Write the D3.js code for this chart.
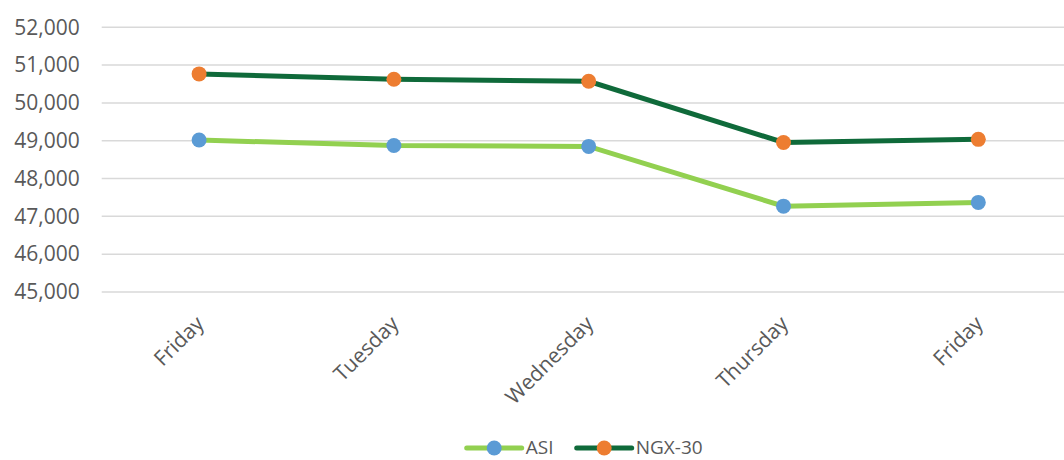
<!DOCTYPE html>
<html>
<head>
<meta charset="utf-8">
<script src="https://cdn.jsdelivr.net/npm/d3@7"></script>
<style>
  body { margin: 0; background: #fff; }
  text { font-family: "Open Sans", sans-serif; fill: #595959; }
</style>
</head>
<body>
<div id="chart-container"></div>
<script>
// Data
var days = ["Friday", "Tuesday", "Wednesday", "Thursday", "Friday "];
var asiValues = [49018, 48875, 48850, 47270, 47370];
var ngxValues = [50767, 50625, 50573, 48955, 49037];
var yTicks = [45000, 46000, 47000, 48000, 49000, 50000, 51000, 52000];

var width = 1064, height = 460;

var svg = d3.select("#chart-container")
    .append("svg")
    .attr("width", width)
    .attr("height", height);

// Scales
var x = d3.scaleBand()
    .domain(days)
    .range([101.7, 1075.7]);

var y = d3.scaleLinear()
    .domain([45000, 52000])
    .range([292, 27.3]);

// Gridlines
svg.append("g")
    .selectAll("line")
    .data(yTicks)
    .enter().append("line")
    .attr("x1", 101.7)
    .attr("x2", width)
    .attr("y1", function (d) { return y(d); })
    .attr("y2", function (d) { return y(d); })
    .attr("stroke", "#d9d9d9")
    .attr("stroke-width", 1.5);

// Y axis
var yAxis = svg.append("g")
    .attr("transform", "translate(101.7,0)")
    .call(d3.axisLeft(y).tickValues(yTicks).tickFormat(d3.format(",")).tickSize(0).tickPadding(22));
yAxis.select(".domain").remove();
yAxis.selectAll("text")
    .style("font-size", "21px")
    .attr("fill", "#595959");

// X axis labels
var xAxis = svg.append("g")
    .attr("transform", "translate(0,292)")
    .call(d3.axisBottom(x).tickSize(0).tickFormat(function (d) { return d.trim(); }));
xAxis.select(".domain").remove();
xAxis.selectAll("text")
    .style("font-size", "21px")
    .attr("fill", "#595959")
    .attr("text-anchor", "end")
    .attr("dy", null)
    .attr("y", null)
    .attr("transform", "translate(6,33) rotate(-45)");

function cx(d, i) { return x(days[i]) + x.bandwidth() / 2; }

// Lines
var line = d3.line()
    .x(function (d, i) { return cx(d, i); })
    .y(function (d) { return y(d); });

svg.append("path")
    .datum(asiValues)
    .attr("fill", "none")
    .attr("stroke", "#92d050")
    .attr("stroke-width", 5)
    .attr("d", line);

svg.append("path")
    .datum(ngxValues)
    .attr("fill", "none")
    .attr("stroke", "#0f6a3a")
    .attr("stroke-width", 5)
    .attr("d", line);

// Markers
svg.append("g").selectAll("circle")
    .data(asiValues)
    .enter().append("circle")
    .attr("cx", cx)
    .attr("cy", function (d) { return y(d); })
    .attr("r", 7.5)
    .attr("fill", "#5b9bd5");

svg.append("g").selectAll("circle")
    .data(ngxValues)
    .enter().append("circle")
    .attr("cx", cx)
    .attr("cy", function (d) { return y(d); })
    .attr("r", 7.5)
    .attr("fill", "#ed7d31");

// Legend
var legendItems = [
    { name: "ASI", line: "#92d050", dot: "#5b9bd5", x: 466.7 },
    { name: "NGX-30", line: "#0f6a3a", dot: "#ed7d31", x: 576.7 }
];
var legend = svg.append("g").attr("transform", "translate(0,448)");
var item = legend.selectAll("g")
    .data(legendItems)
    .enter().append("g")
    .attr("transform", function (d) { return "translate(" + d.x + ",0)"; });
item.append("line")
    .attr("x1", 0).attr("x2", 55)
    .attr("stroke", function (d) { return d.line; })
    .attr("stroke-width", 5)
    .attr("stroke-linecap", "round");
item.append("circle")
    .attr("cx", 27.5)
    .attr("r", 7.5)
    .attr("fill", function (d) { return d.dot; });
item.append("text")
    .attr("x", 59)
    .attr("dy", "0.34em")
    .style("font-size", "19px")
    .text(function (d) { return d.name; });
</script>
</body>
</html>
